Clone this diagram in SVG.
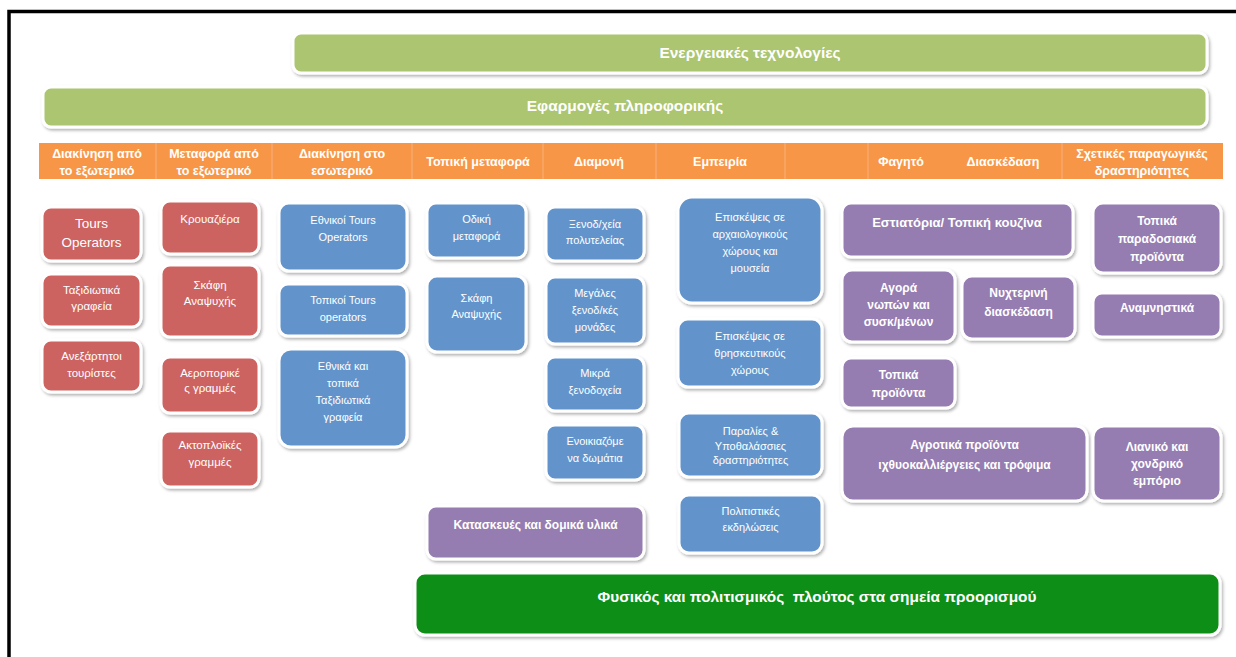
<svg xmlns="http://www.w3.org/2000/svg" width="1236" height="657" viewBox="0 0 1236 657">
<defs>
<filter id="sh" x="-10%" y="-10%" width="125%" height="130%">
<feDropShadow dx="1.5" dy="2" stdDeviation="1.5" flood-color="#000" flood-opacity="0.3"/>
</filter>
<style>
text{font-family:"Liberation Sans",Arial,sans-serif;fill:#fff;text-anchor:middle}
.box{stroke:#fff;stroke-width:3;filter:url(#sh)}
.lg{fill:#abc56f}
.dg{fill:#118e18}
.red{fill:#cd6460}
.blue{fill:#6294cb}
.pur{fill:#957bb1}
.t{font-size:11px}
.tr{font-size:11.5px}
.tp{font-size:12px;font-weight:bold}
.th{font-size:12.5px;font-weight:bold}
.tb{font-size:15.5px;font-weight:bold}
.div{stroke:#fab07c;stroke-width:1}
</style>
</defs>
<rect width="1236" height="657" fill="#fff"/>
<path d="M9 657 V11.5 H1236" fill="none" stroke="#000" stroke-width="3.5"/>

<g id="energy">
<rect class="box lg" x="293" y="33" width="914" height="40" rx="8"/>
<text class="tb" x="750" y="58">Ενεργειακές τεχνολογίες</text>
</g>
<g id="it">
<rect class="box lg" x="43" y="87" width="1164" height="40" rx="8"/>
<text class="tb" x="625" y="111">Εφαρμογές πληροφορικής</text>
</g>

<g id="header">
<rect x="39" y="143" width="1184" height="36" fill="#f79646"/>
<line class="div" x1="156" y1="143" x2="156" y2="179"/>
<line class="div" x1="272" y1="143" x2="272" y2="179"/>
<line class="div" x1="412" y1="143" x2="412" y2="179"/>
<line class="div" x1="543" y1="143" x2="543" y2="179"/>
<line class="div" x1="656" y1="143" x2="656" y2="179"/>
<line class="div" x1="785" y1="143" x2="785" y2="179"/>
<line class="div" x1="868" y1="143" x2="868" y2="179"/>
<line class="div" x1="1062" y1="143" x2="1062" y2="179"/>
<text class="th" x="97" y="158">Διακίνηση από</text>
<text class="th" x="97" y="175">το εξωτερικό</text>
<text class="th" x="214" y="158">Μεταφορά από</text>
<text class="th" x="214" y="175">το εξωτερικό</text>
<text class="th" x="342" y="158">Διακίνηση στο</text>
<text class="th" x="342" y="175">εσωτερικό</text>
<text class="th" x="478" y="166">Τοπική μεταφορά</text>
<text class="th" x="599" y="166">Διαμονή</text>
<text class="th" x="720" y="166">Εμπειρία</text>
<text class="th" x="901" y="166">Φαγητό</text>
<text class="th" x="1003" y="166">Διασκέδαση</text>
<text class="th" x="1142" y="158">Σχετικές παραγωγικές</text>
<text class="th" x="1142" y="175">δραστηριότητες</text>
</g>

<g id="tours-operators"><rect class="box red" x="42" y="207" width="99" height="54" rx="9"/>
<text x="91.5" y="228" style="font-size:13.5px">Tours</text><text x="91.5" y="247" style="font-size:13.5px">Operators</text></g>
<g id="travel-agencies"><rect class="box red" x="42" y="274" width="99" height="53" rx="9"/>
<text class="tr" x="91.5" y="294">Ταξιδιωτικά</text><text class="tr" x="91.5" y="310">γραφεία</text></g>
<g id="independent"><rect class="box red" x="42" y="340" width="99" height="52" rx="9"/>
<text class="tr" x="91.5" y="360">Ανεξάρτητοι</text><text class="tr" x="91.5" y="377">τουρίστες</text></g>

<g id="cruise"><rect class="box red" x="161" y="201" width="98" height="53" rx="9"/>
<text class="tr" x="210" y="223">Κρουαζιέρα</text></g>
<g id="yachts-ext"><rect class="box red" x="161" y="265" width="98" height="72" rx="9"/>
<text class="tr" x="210" y="289">Σκάφη</text><text class="tr" x="210" y="305">Αναψυχής</text></g>
<g id="airlines"><rect class="box red" x="161" y="357" width="98" height="56" rx="9"/>
<text class="tr" x="210" y="377">Αεροπορικέ</text><text class="tr" x="210" y="392">ς γραμμές</text></g>
<g id="ferries"><rect class="box red" x="161" y="431" width="98" height="56" rx="9"/>
<text class="tr" x="210" y="449">Ακτοπλοϊκές</text><text class="tr" x="210" y="466">γραμμές</text></g>

<g id="national-to"><rect class="box blue" x="279" y="203" width="128" height="68" rx="10"/>
<text class="t" x="343" y="224">Εθνικοί Tours</text><text class="t" x="343" y="241">Operators</text></g>
<g id="local-to"><rect class="box blue" x="279" y="284" width="128" height="52" rx="9"/>
<text class="t" x="343" y="304">Τοπικοί Tours</text><text class="t" x="343" y="321">operators</text></g>
<g id="national-agencies"><rect class="box blue" x="279" y="349" width="128" height="98" rx="12"/>
<text class="t" x="343" y="370">Εθνικά και</text><text class="t" x="343" y="387">τοπικά</text><text class="t" x="343" y="404">Ταξιδιωτικά</text><text class="t" x="343" y="421">γραφεία</text></g>

<g id="road"><rect class="box blue" x="427" y="203" width="99" height="55" rx="9"/>
<text class="t" x="476.5" y="223">Οδική</text><text class="t" x="476.5" y="240">μεταφορά</text></g>
<g id="yachts-int"><rect class="box blue" x="427" y="276" width="99" height="76" rx="10"/>
<text class="t" x="476.5" y="302">Σκάφη</text><text class="t" x="476.5" y="318">Αναψυχής</text></g>

<g id="luxury"><rect class="box blue" x="546" y="207" width="98" height="54" rx="9"/>
<text class="t" x="595" y="228">Ξενοδ/χεία</text><text class="t" x="595" y="244">πολυτελείας</text></g>
<g id="large-hotels"><rect class="box blue" x="546" y="277" width="98" height="67" rx="9"/>
<text class="t" x="595" y="297">Μεγάλες</text><text class="t" x="595" y="314">ξενοδ/κές</text><text class="t" x="595" y="331">μονάδες</text></g>
<g id="small-hotels"><rect class="box blue" x="546" y="357" width="98" height="54" rx="9"/>
<text class="t" x="595" y="377">Μικρά</text><text class="t" x="595" y="394">ξενοδοχεία</text></g>
<g id="rooms"><rect class="box blue" x="546" y="425" width="98" height="55" rx="9"/>
<text class="t" x="595" y="445">Ενοικιαζόμε</text><text class="t" x="595" y="462">να δωμάτια</text></g>

<g id="archaeological"><rect class="box blue" x="678" y="197" width="144" height="106" rx="14"/>
<text class="t" x="750" y="221">Επισκέψεις σε</text><text class="t" x="750" y="238">αρχαιολογικούς</text><text class="t" x="750" y="255">χώρους και</text><text class="t" x="750" y="272">μουσεία</text></g>
<g id="religious"><rect class="box blue" x="678" y="319" width="144" height="68" rx="10"/>
<text class="t" x="750" y="340">Επισκέψεις σε</text><text class="t" x="750" y="357">θρησκευτικούς</text><text class="t" x="750" y="374">χώρους</text></g>
<g id="beaches"><rect class="box blue" x="679" y="413" width="143" height="64" rx="10"/>
<text class="t" x="750.5" y="435">Παραλίες &amp;</text><text class="t" x="750.5" y="450">Υποθαλάσσιες</text><text class="t" x="750.5" y="464">δραστηριότητες</text></g>
<g id="cultural"><rect class="box blue" x="679" y="495" width="143" height="58" rx="10"/>
<text class="t" x="750.5" y="515">Πολιτιστικές</text><text class="t" x="750.5" y="531">εκδηλώσεις</text></g>

<g id="construction"><rect class="box pur" x="427" y="506" width="217" height="53" rx="9"/>
<text class="tp" x="535.5" y="529">Κατασκευές και δομικά υλικά</text></g>

<g id="restaurants"><rect class="box pur" x="842" y="203" width="231" height="54" rx="9"/>
<text class="tp" x="957" y="227" style="font-size:13px">Εστιατόρια/ Τοπική κουζίνα</text></g>
<g id="traditional"><rect class="box pur" x="1093" y="203" width="128" height="70" rx="10"/>
<text class="tp" x="1157" y="225">Τοπικά</text><text class="tp" x="1157" y="243">παραδοσιακά</text><text class="tp" x="1157" y="261">προϊόντα</text></g>
<g id="fresh-market"><rect class="box pur" x="842" y="270" width="113" height="72" rx="10"/>
<text class="tp" x="898.5" y="292">Αγορά</text><text class="tp" x="898.5" y="309">νωπών και</text><text class="tp" x="898.5" y="326">συσκ/μένων</text></g>
<g id="nightlife"><rect class="box pur" x="962" y="276" width="113" height="63" rx="10"/>
<text class="tp" x="1018.5" y="297">Νυχτερινή</text><text class="tp" x="1018.5" y="316">διασκέδαση</text></g>
<g id="souvenirs"><rect class="box pur" x="1093" y="293" width="128" height="44" rx="9"/>
<text class="tp" x="1157" y="312">Αναμνηστικά</text></g>
<g id="local-products"><rect class="box pur" x="842" y="358" width="113" height="50" rx="9"/>
<text class="tp" x="898.5" y="379">Τοπικά</text><text class="tp" x="898.5" y="397">προϊόντα</text></g>
<g id="agricultural"><rect class="box pur" x="842" y="426" width="245" height="75" rx="11"/>
<text class="tp" x="964.5" y="449">Αγροτικά προϊόντα</text><text class="tp" x="964.5" y="469">ιχθυοκαλλιέργειες και τρόφιμα</text></g>
<g id="trade"><rect class="box pur" x="1093" y="426" width="128" height="75" rx="11"/>
<text class="tp" x="1157" y="451">Λιανικό και</text><text class="tp" x="1157" y="468">χονδρικό</text><text class="tp" x="1157" y="485">εμπόριο</text></g>

<g id="wealth"><rect class="box dg" x="415" y="573" width="805" height="62" rx="10"/>
<text x="817" y="602" style="font-size:15.4px;font-weight:bold;white-space:pre">Φυσικός και πολιτισμικός  πλούτος στα σημεία προορισμού</text></g>

<g id="connectors"></g>
</svg>
